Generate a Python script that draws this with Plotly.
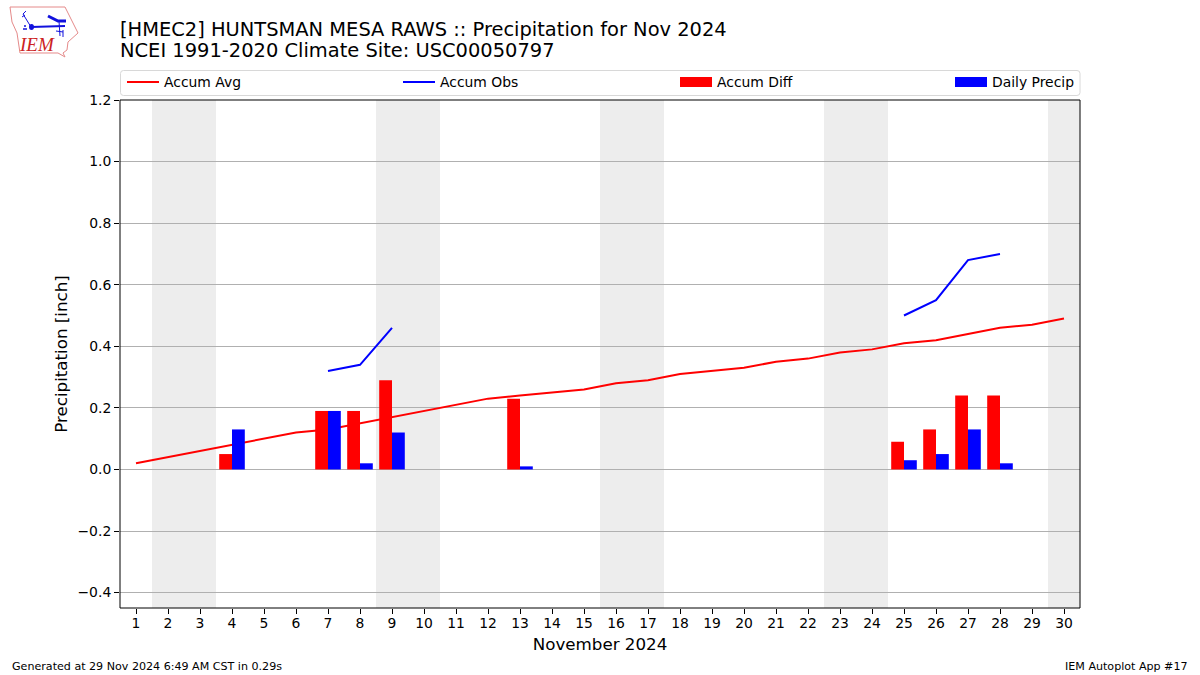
import plotly.graph_objects as go

days = list(range(1, 31))
accum_avg = [0.02, 0.04, 0.06, 0.08, 0.10, 0.12, 0.13, 0.15, 0.17, 0.19, 0.21, 0.23, 0.24, 0.25, 0.26,
             0.28, 0.29, 0.31, 0.32, 0.33, 0.35, 0.36, 0.38, 0.39, 0.41, 0.42, 0.44, 0.46, 0.47, 0.49]
accum_obs = [None]*6 + [0.32, 0.34, 0.46] + [None]*15 + [0.50, 0.55, 0.68, 0.70, None, None]
diff_days = [4, 7, 8, 9, 13, 25, 26, 27, 28]
accum_diff = [0.05, 0.19, 0.19, 0.29, 0.23, 0.09, 0.13, 0.24, 0.24]
daily_precip = [0.13, 0.19, 0.02, 0.12, 0.01, 0.03, 0.05, 0.13, 0.02]
weekends = [(1.5, 3.5), (8.5, 10.5), (15.5, 17.5), (22.5, 24.5), (29.5, 30.5)]
y_ticks = [-0.4, -0.2, 0.0, 0.2, 0.4, 0.6, 0.8, 1.0, 1.2]

FONT = "DejaVu Sans"
W, H = 1200, 675
PL, PR, PT, PB = 120, 1080, 100, 608


def px(x):
    return (x - PL) / (PR - PL)


def py(y):
    return (PB - y) / (PB - PT)


def path(points, close=False):
    s = "M" + " L".join(f"{px(x):.5f},{py(y):.5f}" for x, y in points)
    return s + (" Z" if close else "")


fig = go.Figure()
fig.add_trace(go.Scatter(x=days, y=accum_avg, mode="lines", name="Accum Avg", legend="legend",
                         line=dict(color="#ff0000", width=2), zorder=1))
fig.add_trace(go.Scatter(x=days, y=accum_obs, mode="lines", name="Accum Obs", legend="legend2",
                         line=dict(color="#0000ff", width=2), connectgaps=False, zorder=1))
fig.add_trace(go.Bar(x=diff_days, y=accum_diff, name="Accum Diff",
                     marker=dict(color="#ff0000", line_width=0), zorder=2, showlegend=False))
fig.add_trace(go.Bar(x=diff_days, y=daily_precip, name="Daily Precip",
                     marker=dict(color="#0000ff", line_width=0), zorder=2, showlegend=False))
# wide legend swatches for the two bar series
fig.add_trace(go.Scatter(x=[None], y=[None], mode="lines", name="Accum Diff", legend="legend3",
                         line=dict(color="#ff0000", width=10)))
fig.add_trace(go.Scatter(x=[None], y=[None], mode="lines", name="Daily Precip", legend="legend4",
                         line=dict(color="#0000ff", width=10)))

shapes = [dict(type="rect", xref="x", yref="paper", x0=a, x1=b, y0=0, y1=1,
               fillcolor="#ededed", line_width=0, layer="below") for a, b in weekends]

# plot frame
shapes.append(dict(type="rect", xref="paper", yref="paper", x0=0, x1=1, y0=0, y1=1,
                   line=dict(color="#000000", width=1), fillcolor="rgba(0,0,0,0)", layer="above"))

# legend frame
L, R, T, B, r = 120.5, 1080, 70.5, 95.5, 3
frame = (f"M{px(L+r):.5f},{py(T):.5f} L{px(R-r):.5f},{py(T):.5f} Q{px(R):.5f},{py(T):.5f} {px(R):.5f},{py(T+r):.5f} "
         f"L{px(R):.5f},{py(B-r):.5f} Q{px(R):.5f},{py(B):.5f} {px(R-r):.5f},{py(B):.5f} "
         f"L{px(L+r):.5f},{py(B):.5f} Q{px(L):.5f},{py(B):.5f} {px(L):.5f},{py(B-r):.5f} "
         f"L{px(L):.5f},{py(T+r):.5f} Q{px(L):.5f},{py(T):.5f} {px(L+r):.5f},{py(T):.5f} Z")
shapes.append(dict(type="path", xref="paper", yref="paper", path=frame,
                   line=dict(color="#d8d8d8", width=1), layer="above"))

# logo: state outline and station-plot glyph
outline = [(10, 7), (65, 7), (68, 13), (74, 25), (78, 33), (68, 42), (67, 50), (63, 53), (65, 57),
           (58, 53), (20, 53), (17, 33), (12, 22)]
shapes.append(dict(type="path", xref="paper", yref="paper", path=path(outline, True),
                   line=dict(color="#e58a8a", width=1), layer="above"))
for seg, w in [([(31, 27), (65, 26)], 2), ([(31, 27), (23, 14)], 1), ([(23, 14), (26, 11)], 1),
               ([(22, 17), (25, 15)], 1), ([(48, 16), (58, 21), (66, 21)], 3), ([(59, 21), (60, 36)], 1),
               ([(56, 31), (63, 32)], 1), ([(63, 30), (63, 37)], 1), ([(23, 29), (27, 29)], 1.5),
               ([(25, 25), (25, 27)], 1.5)]:
    shapes.append(dict(type="path", xref="paper", yref="paper", path=path(seg),
                       line=dict(color="#1111dd", width=w), layer="above"))
shapes.append(dict(type="circle", xref="paper", yref="paper", x0=px(29), x1=px(34), y0=py(30), y1=py(24),
                   fillcolor="#1111dd", line_width=0, layer="above"))


def note(text, x, y, size, xanchor="left", color="#000000", family=FONT):
    return dict(text=text, xref="paper", yref="paper", x=px(x), y=py(y), showarrow=False,
                xanchor=xanchor, yanchor="middle", font=dict(family=family, size=size, color=color))


def legend_at(x):
    return dict(orientation="h", x=px(x), xanchor="left", y=py(82.5), yanchor="middle",
                itemwidth=32, bgcolor="rgba(0,0,0,0)", borderwidth=0,
                font=dict(family=FONT, size=13.9))


annotations = [
    note("[HMEC2] HUNTSMAN MESA RAWS :: Precipitation for Nov 2024", 118, 29, 19.45),
    note("NCEI 1991-2020 Climate Site: USC00050797", 118, 51, 19.45),
    note("Generated at 29 Nov 2024 6:49 AM CST in 0.29s", 10, 666, 11.1),
    note("IEM Autoplot App #17", 1190, 666, 11.1, xanchor="right"),
    note("<i>IEM</i>", 37, 45, 19, xanchor="center", color="#cc2222", family="Liberation Serif"),
]

fig.update_layout(
    width=W, height=H, autosize=False,
    margin=dict(l=PL, r=W - PR, t=PT, b=H - PB, pad=0),
    paper_bgcolor="#ffffff", plot_bgcolor="#ffffff",
    font=dict(family=FONT, size=13.9, color="#000000"),
    barmode="group", bargap=0.2, bargroupgap=0,
    shapes=shapes, annotations=annotations,
    legend=legend_at(122), legend2=legend_at(398), legend3=legend_at(675), legend4=legend_at(950),
    xaxis=dict(range=[0.5, 30.5], tickmode="array", tickvals=days, ticktext=[str(d) for d in days],
               ticks="outside", ticklen=5, tickwidth=1, tickcolor="#000000", showgrid=False, zeroline=False,
               showline=True, linecolor="#000000", linewidth=1, mirror=True, tickangle=0, ticklabelstandoff=-3,
               title=dict(text="November 2024", font=dict(family=FONT, size=16.7), standoff=8)),
    yaxis=dict(range=[-0.45, 1.2], tickmode="array", tickvals=y_ticks, tickformat=".1f",
               ticks="outside", ticklen=5, tickwidth=1, tickcolor="#000000",
               showgrid=True, gridcolor="#b0b0b0", gridwidth=1, zeroline=False,
               showline=True, linecolor="#000000", linewidth=1, mirror=True,
               title=dict(text="Precipitation [inch]", font=dict(family=FONT, size=16.7), standoff=5)),
)
fig.write_html("out.html", post_script="document.body.style.margin='0';",
               config=dict(displayModeBar=False))
